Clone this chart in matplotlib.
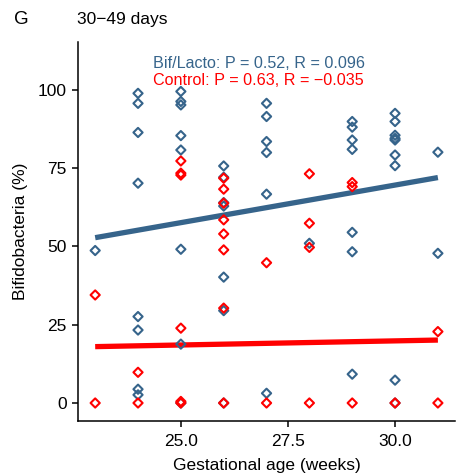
import numpy as np
import matplotlib
matplotlib.use("Agg")
import matplotlib.pyplot as plt

# values
bif_x = [23, 24, 24, 24, 24, 24, 24, 24, 24,
         25, 25, 25, 25, 25, 25, 25, 25,
         26, 26, 26, 26, 26, 26, 26,
         27, 27, 27, 27, 27, 27,
         28,
         29, 29, 29, 29, 29, 29, 29,
         30, 30, 30, 30, 30, 30, 30, 30, 30,
         31, 31]
bif_y = [48.7, 98.9, 95.7, 86.4, 70.2, 27.6, 23.3, 4.4, 2.6,
         99.5, 96.3, 95.2, 85.4, 80.8, 49.1, 18.8, 0.0,
         75.7, 72.1, 64.0, 62.9, 40.2, 29.5, 0.0,
         95.7, 91.5, 83.5, 80.0, 66.7, 3.1,
         51.0,
         89.9, 88.1, 84.0, 81.0, 54.5, 48.3, 9.2,
         92.5, 89.9, 85.5, 84.5, 84.0, 79.2, 75.8, 7.3, 0.0,
         80.1, 47.8]

ctrl_x = [23, 23, 24, 24,
          25, 25, 25, 25, 25, 25,
          26, 26, 26, 26, 26, 26, 26, 26,
          27, 27,
          28, 28, 28, 28,
          29, 29, 29,
          30,
          31, 31]
ctrl_y = [34.5, 0.0, 9.8, 0.0,
          77.3, 73.4, 72.8, 23.9, 0.0, 0.5,
          71.8, 68.3, 63.8, 58.5, 54.0, 48.9, 30.3, 0.0,
          44.8, 0.0,
          73.2, 57.4, 49.7, 0.0,
          70.4, 69.1, 0.0,
          0.0,
          22.8, 0.0]

# fitted lines as drawn in the reference
fit_x = [23, 31]
fit_bif = [52.8, 72.0]
fit_ctrl = [18.0, 20.1]

label_bif = "Bif/Lacto: P = 0.52, R = 0.096"
label_ctrl = "Control: P = 0.63, R = \u22120.035"

col_bif = "#36648B"
col_ctrl = "#FF0000"

plt.rcParams["font.family"] = ["Liberation Sans", "DejaVu Sans"]

fig = plt.figure(figsize=(4.73, 4.75), dpi=100)
ax = fig.add_axes([0.165, 0.1137, 0.797, 0.7979])

ax.scatter(bif_x, bif_y, marker="D", s=22, facecolors="none",
           edgecolors=col_bif, linewidths=1.5, zorder=3)
ax.scatter(ctrl_x, ctrl_y, marker="D", s=22, facecolors="none",
           edgecolors=col_ctrl, linewidths=1.5, zorder=3)

ax.plot(fit_x, fit_bif, color=col_bif, lw=3.8, solid_capstyle="butt", zorder=2)
ax.plot(fit_x, fit_ctrl, color=col_ctrl, lw=3.8, solid_capstyle="butt", zorder=2)

ax.text(24.35, 108.4, label_bif, color=col_bif, fontsize=11.6, va="center")
ax.text(24.35, 103.1, label_ctrl, color=col_ctrl, fontsize=11.6, va="center")

ax.set_xlim(22.6, 31.4)
ax.set_ylim(-5.75, 115.3)
ax.set_xticks([25.0, 27.5, 30.0])
ax.set_xticklabels(["25.0", "27.5", "30.0"])
ax.set_yticks([0, 25, 50, 75, 100])

for s in ["top", "right"]:
    ax.spines[s].set_visible(False)
for s in ["left", "bottom"]:
    ax.spines[s].set_linewidth(1.1)
ax.tick_params(axis="both", length=4.5, width=1.1, labelsize=12.5, colors="black")
ax.tick_params(axis="x", pad=5)

ax.set_xlabel("Gestational age (weeks)", fontsize=12.5, labelpad=6)
ax.set_ylabel("Bifidobacteria (%)", fontsize=12.5, labelpad=7)

fig.text(0.03, 0.959, "G", fontsize=13.5, va="center")
fig.text(0.163, 0.959, "30\u221249 days", fontsize=12.5, va="center")

fig.savefig("out.png", dpi=100)
